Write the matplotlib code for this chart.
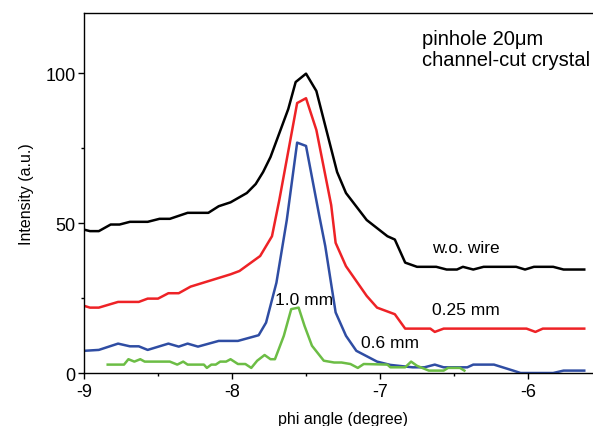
import matplotlib
matplotlib.use("Agg")
import matplotlib.pyplot as plt
from matplotlib.ticker import MultipleLocator

plt.rcParams['font.family'] = ['Liberation Sans', 'DejaVu Sans']
plt.rcParams['axes.unicode_minus'] = False

# without wire
x_open = [-9.0, -8.96, -8.90, -8.82, -8.76, -8.69, -8.57, -8.49, -8.42, -8.30,
          -8.16, -8.09, -8.01, -7.90, -7.84, -7.79, -7.74, -7.68, -7.62, -7.57,
          -7.50, -7.43, -7.29, -7.23, -7.09, -6.95, -6.90, -6.83, -6.75, -6.62,
          -6.55, -6.48, -6.44, -6.37, -6.30, -6.08, -6.02, -5.96, -5.83, -5.76,
          -5.62]
y_open = [47.8, 47.3, 47.3, 49.5, 49.5, 50.4, 50.4, 51.4, 51.4, 53.4,
          53.4, 55.6, 56.9, 60.0, 63.0, 67.0, 72.0, 80.0, 88.0, 97.0,
          99.8, 94.0, 67.0, 60.0, 51.0, 45.6, 44.5, 36.8, 35.4, 35.4,
          34.5, 34.5, 35.4, 34.5, 35.4, 35.4, 34.5, 35.4, 35.4, 34.5,
          34.5]

# 0.25 mm wire
x_025 = [-9.0, -8.96, -8.90, -8.77, -8.63, -8.57, -8.50, -8.43, -8.36, -8.28,
         -8.01, -7.95, -7.81, -7.73, -7.68, -7.56, -7.50, -7.43, -7.33, -7.30,
         -7.23, -7.09, -7.02, -6.90, -6.83, -6.66, -6.63, -6.57, -6.01, -5.95,
         -5.90, -5.62]
y_025 = [22.4, 21.8, 21.8, 23.7, 23.7, 24.8, 24.8, 26.6, 26.6, 28.8,
         32.9, 34.0, 39.0, 45.6, 57.8, 90.0, 91.6, 81.0, 56.0, 43.4,
         35.6, 25.7, 21.8, 19.6, 14.8, 14.8, 13.7, 14.8, 14.8, 13.7,
         14.8, 14.8]

# 0.6 mm wire
x_06 = [-9.0, -8.90, -8.77, -8.69, -8.63, -8.57, -8.43, -8.36, -8.30, -8.23,
        -8.09, -7.96, -7.82, -7.77, -7.70, -7.63, -7.56, -7.50, -7.41, -7.37,
        -7.30, -7.23, -7.16, -7.02, -6.93, -6.78, -6.70, -6.63, -6.57, -6.41,
        -6.37, -6.23, -6.10, -6.05, -5.83, -5.76, -5.62]
y_06 = [7.4, 7.7, 9.8, 8.9, 8.9, 7.7, 9.8, 8.8, 9.8, 8.8,
        10.7, 10.7, 12.6, 16.8, 30.1, 51.0, 76.8, 75.7, 52.3, 42.3,
        20.2, 12.4, 7.4, 3.8, 2.7, 1.9, 1.9, 2.8, 1.9, 1.9,
        2.8, 2.8, 0.8, 0.0, 0.0, 0.8, 0.8]

# 1.0 mm wire
x_10 = [-8.84, -8.73, -8.70, -8.66, -8.62, -8.59, -8.42, -8.37, -8.33, -8.30,
        -8.19, -8.17, -8.14, -8.11, -8.08, -8.04, -8.01, -7.96, -7.91, -7.87,
        -7.83, -7.78, -7.74, -7.71, -7.65, -7.60, -7.55, -7.51, -7.46, -7.38,
        -7.31, -7.26, -7.20, -7.15, -7.11, -6.95, -6.93, -6.83, -6.79, -6.75,
        -6.67, -6.57, -6.54, -6.46, -6.43]
y_10 = [2.8, 2.8, 4.6, 3.8, 4.6, 3.8, 3.8, 2.8, 3.8, 2.8,
        2.8, 1.7, 2.8, 2.8, 3.8, 3.8, 4.6, 3.0, 3.0, 1.7,
        4.1, 6.0, 4.6, 4.6, 12.4, 21.3, 21.8, 15.7, 9.1, 4.1,
        3.5, 3.5, 3.0, 1.7, 3.0, 2.8, 1.9, 1.9, 3.8, 2.4,
        0.8, 0.8, 1.7, 1.7, 0.8]

fig = plt.figure(figsize=(5.93, 4.27), dpi=100)
ax = fig.add_axes([0.1417, 0.1241, 0.8735, 0.843])

lw = 1.8
ax.plot(x_open, y_open, color='black', lw=lw)
ax.plot(x_025, y_025, color='#ee2226', lw=lw)
ax.plot(x_06, y_06, color='#2f4da3', lw=lw)
ax.plot(x_10, y_10, color='#6cbd45', lw=lw)

ax.text(-6.42, 42, 'w.o. wire', fontsize=12.5, ha='center', va='center')
ax.text(-6.42, 21.3, '0.25 mm', fontsize=12.5, ha='center', va='center')
ax.text(-6.93, 10.3, '0.6 mm', fontsize=12.5, ha='center', va='center')
ax.text(-7.51, 24.6, '1.0 mm', fontsize=12.5, ha='center', va='center')
ax.text(0.6525, 0.955, 'pinhole 20μm\nchannel-cut crystal', transform=ax.transAxes,
        fontsize=14.5, ha='left', va='top', linespacing=1.1)

ax.set_xlim(-9, -5.5)
ax.set_ylim(0, 120)
ax.xaxis.set_major_locator(MultipleLocator(1))
ax.xaxis.set_minor_locator(MultipleLocator(0.5))
ax.yaxis.set_major_locator(MultipleLocator(50))
ax.yaxis.set_minor_locator(MultipleLocator(25))
ax.tick_params(which='major', length=4, width=1, labelsize=13, direction='out')
ax.tick_params(which='minor', length=2.5, width=1, direction='out')
ax.tick_params(axis='y', pad=2)
ax.tick_params(axis='x', pad=3)
for s in ax.spines.values():
    s.set_linewidth(1)

ax.set_xlabel('phi angle (degree)', fontsize=11.5, labelpad=8)
ax.set_ylabel('Intensity (a.u.)', fontsize=11.5, labelpad=8)

fig.savefig('out.png', dpi=100)
